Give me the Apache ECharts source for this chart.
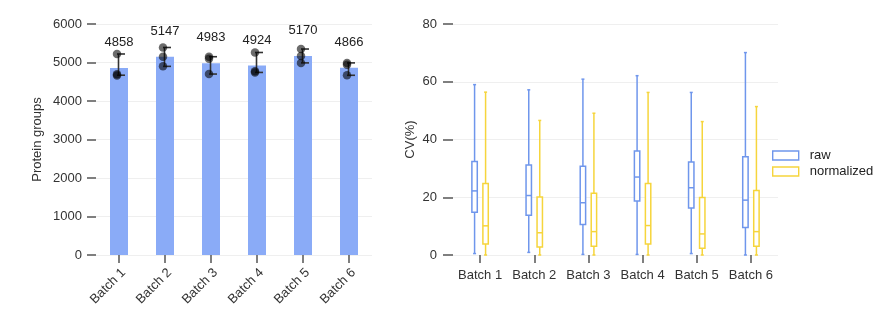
<!DOCTYPE html>
<html><head><meta charset="utf-8">
<script src="https://cdn.jsdelivr.net/npm/echarts@6/dist/echarts.min.js"></script>
<style>html,body{margin:0;padding:0;background:#fff}#c{width:892px;height:328px}</style>
</head><body><div id="c"></div>
<script>
const batches = ['Batch 1','Batch 2','Batch 3','Batch 4','Batch 5','Batch 6'];
const proteinMeans = [4858, 5147, 4983, 4924, 5170, 4866];
const replicatePoints = [
  [5221, 4693, 4660],
  [5390, 5150, 4900],
  [5150, 5100, 4700],
  [5260, 4770, 4742],
  [5350, 5170, 4990],
  [4990, 4940, 4668]
];
const errLow  = [4670, 4900, 4700, 4742, 4990, 4668];
const errHigh = [5221, 5390, 5150, 5260, 5350, 4990];
const proteinTicks = [0, 6000, 1000];
// boxplot stats: [min, Q1, median, Q3, max]
const cvRaw = [
  [0.5, 14.8, 22.2, 32.4, 59.0],
  [0.9, 13.8, 20.6, 31.2, 57.2],
  [0.2, 10.6, 18.1, 30.7, 60.9],
  [0.2, 18.7, 27.0, 36.0, 62.1],
  [0.5, 16.3, 23.3, 32.2, 56.3],
  [0.0,  9.5, 19.0, 34.0, 70.1]
];
const cvNormalized = [
  [0.0, 3.8, 10.1, 24.8, 56.4],
  [0.0, 2.8,  7.7, 20.1, 46.6],
  [0.0, 3.0,  8.1, 21.4, 49.1],
  [0.0, 3.8, 10.2, 24.8, 56.3],
  [0.0, 2.3,  7.3, 19.9, 46.2],
  [0.0, 3.0,  8.1, 22.3, 51.4]
];
const cvTicks = [0, 80, 20];
const seriesNames = ['raw', 'normalized'];

const FONT = 'Liberation Sans, Arial, sans-serif';
const BLUE = '#6f96ec';
const YELLOW = '#f6d53c';
const BAR = '#8aabf7';

function boxRender(offset, color) {
  return function (params, api) {
    const c = api.value(0);
    const x = api.coord([c, 0])[0] + offset;
    const y = i => api.coord([c, api.value(i)])[1];
    const yMin = y(1), yQ1 = y(2), yMed = y(3), yQ3 = y(4), yMax = y(5);
    const hw = 2.7;
    const st = {stroke: color, lineWidth: 1.5, fill: null};
    return {type:'group', children:[
      {type:'line', shape:{x1:x,y1:yMin,x2:x,y2:yQ1}, style:st},
      {type:'line', shape:{x1:x,y1:yQ3,x2:x,y2:yMax}, style:st},
      {type:'line', shape:{x1:x-1.5,y1:yMax,x2:x+1.5,y2:yMax}, style:st},
      {type:'line', shape:{x1:x-1.5,y1:yMin,x2:x+1.5,y2:yMin}, style:st},
      {type:'rect', shape:{x:x-hw,y:yQ3,width:2*hw,height:yQ1-yQ3}, style:{stroke:color,lineWidth:1.5,fill:'#fff'}},
      {type:'line', shape:{x1:x-hw,y1:yMed,x2:x+hw,y2:yMed}, style:st}
    ]};
  };
}

function errRender(params, api) {
  const c = api.value(0);
  const x = api.coord([c, 0])[0];
  const yl = api.coord([c, api.value(1)])[1];
  const yh = api.coord([c, api.value(2)])[1];
  const st = {stroke:'#333', lineWidth:1.6};
  return {type:'group', children:[
    {type:'line', shape:{x1:x-0.5,y1:yl,x2:x-0.5,y2:yh}, style:st},
    {type:'line', shape:{x1:x-2,y1:yh,x2:x+6,y2:yh}, style:st},
    {type:'line', shape:{x1:x-2,y1:yl,x2:x+6,y2:yl}, style:st}
  ]};
}

const scatterData = [];
replicatePoints.forEach((pts, i) => pts.forEach(v => scatterData.push([i, v])));
const plain = v => String(v);

const chart = echarts.init(document.getElementById('c'));
chart.setOption({
  animation: false,
  textStyle: {fontFamily: FONT},
  grid: [
    {left: 96, right: 520, top: 24, bottom: 73},
    {left: 453, right: 114, top: 24, bottom: 73}
  ],
  legend: {
    orient: 'vertical', left: 767, top: 144, itemWidth: 26, itemHeight: 9, itemGap: 3,
    icon: 'rect',
    textStyle: {fontSize: 13, color: '#222', fontFamily: FONT, padding: [0,0,0,6]},
    data: [
      {name: seriesNames[0], itemStyle: {color:'#fff', borderColor: BLUE, borderWidth: 1.4}},
      {name: seriesNames[1], itemStyle: {color:'#fff', borderColor: YELLOW, borderWidth: 1.4}}
    ]
  },
  xAxis: [
    {gridIndex:0, type:'category', data:batches, offset:2,
     axisLine:{show:false}, axisTick:{show:true, alignWithLabel:true, length:8, lineStyle:{color:'#555', width:1.5}},
     axisLabel:{rotate:45, interval:0, fontSize:13, color:'#333', margin:9, verticalAlign:'top', fontFamily:FONT}},
    {gridIndex:1, type:'category', data:batches, offset:2,
     axisLine:{show:false}, axisTick:{show:true, alignWithLabel:true, interval:0, length:8, lineStyle:{color:'#555', width:1.5}},
     axisLabel:{interval:0, fontSize:13, color:'#333', margin:12, fontFamily:FONT}}
  ],
  yAxis: [
    {gridIndex:0, type:'value', min:proteinTicks[0], max:proteinTicks[1], interval:proteinTicks[2],
     name:'Protein groups', nameLocation:'middle', nameGap:52,
     nameTextStyle:{fontSize:13, color:'#333', fontFamily:FONT},
     axisLine:{show:false}, axisTick:{show:true, length:9, lineStyle:{color:'#555', width:1.5}},
     axisLabel:{fontSize:13, color:'#333', margin:14, fontFamily:FONT, formatter:plain},
     splitLine:{lineStyle:{color:'#efefef', width:1}}},
    {gridIndex:1, type:'value', min:cvTicks[0], max:cvTicks[1], interval:cvTicks[2],
     name:'CV(%)', nameLocation:'middle', nameGap:36,
     nameTextStyle:{fontSize:13, color:'#333', fontFamily:FONT},
     axisLine:{show:false}, axisTick:{show:true, length:10, lineStyle:{color:'#555', width:1.5}},
     axisLabel:{fontSize:13, color:'#333', margin:16, fontFamily:FONT, formatter:plain},
     splitLine:{lineStyle:{color:'#efefef', width:1}}}
  ],
  series: [
    {type:'bar', xAxisIndex:0, yAxisIndex:0, data:proteinMeans, barWidth:18,
     itemStyle:{color:BAR},
     label:{show:true, position:'top', distance:19, fontSize:13, color:'#222', fontFamily:FONT}},
    {type:'custom', xAxisIndex:0, yAxisIndex:0, renderItem:errRender,
     data: batches.map((b,i)=>[i, errLow[i], errHigh[i]]), z:3},
    {type:'scatter', xAxisIndex:0, yAxisIndex:0, data:scatterData, symbolSize:8.5,
     symbolOffset:[-2,0], itemStyle:{color:'rgba(0,0,0,0.72)'}, z:4},
    {name:seriesNames[0], type:'custom', xAxisIndex:1, yAxisIndex:1,
     renderItem: boxRender(-5.5, BLUE),
     itemStyle:{color:'#fff', borderColor:BLUE},
     encode:{x:0, y:[1,2,3,4,5]},
     data: cvRaw.map((s,i)=>[i].concat(s))},
    {name:seriesNames[1], type:'custom', xAxisIndex:1, yAxisIndex:1,
     renderItem: boxRender(5.5, YELLOW),
     itemStyle:{color:'#fff', borderColor:YELLOW},
     encode:{x:0, y:[1,2,3,4,5]},
     data: cvNormalized.map((s,i)=>[i].concat(s))}
  ]
});
</script>
</body></html>
